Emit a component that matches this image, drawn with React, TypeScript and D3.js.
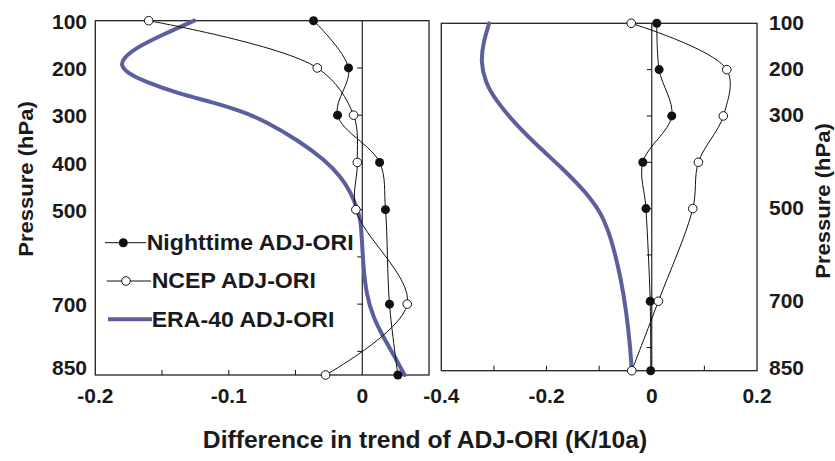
import React from "react";
import * as d3 from "d3";

// ---- data ----
const levels = [100, 200, 300, 400, 500, 700, 850];
const yTickLabelsLeft = [100, 200, 300, 400, 500, 700, 850];
const yTickLabelsRight = [100, 200, 300, 500, 700, 850];
const yMinorTicks = [200, 300, 400, 500, 600, 700, 800];

const nightLeft = [-0.0365, -0.0103, -0.0185, 0.013, 0.0174, 0.0204, 0.0267];
const ncepLeft = [-0.16, -0.0337, -0.0065, -0.0037, -0.0048, 0.0337, -0.0275];
const eraLeftP = [100, 130, 158, 180, 194, 211, 229, 254, 272, 293, 311, 353, 395, 430, 466, 501, 519, 550, 621, 678, 727, 776, 812, 850];
const eraLeftV = [-0.126, -0.15, -0.17, -0.179, -0.181, -0.176, -0.163, -0.138, -0.113, -0.089, -0.074, -0.048, -0.028, -0.016, -0.008, -0.0035, -0.0015, -0.0005, 0.0008, 0.003, 0.008, 0.017, 0.0245, 0.0317];

const nightRight = [0.0095, 0.014, 0.038, -0.017, -0.011, -0.003, -0.002];
const ncepRight = [-0.039, 0.1426, 0.136, 0.0886, 0.078, 0.0126, -0.038];
const eraRightP = [100, 140, 183, 226, 269, 320, 370, 413, 449, 474, 510, 554, 583, 654, 726, 798, 850];
const eraRightV = [-0.309, -0.32, -0.325, -0.317, -0.295, -0.257, -0.212, -0.17, -0.139, -0.119, -0.096, -0.081, -0.073, -0.058, -0.048, -0.041, -0.038];

const xTicksLeft = [-0.2, -0.1, 0];
const xMinorLeft = [-0.15, -0.1, -0.05];
const xTicksRight = [-0.4, -0.2, 0, 0.2];
const xMinorRight = [-0.3, -0.2, -0.1, 0.1];

const legendLabels = ["Nighttime ADJ-ORI", "NCEP ADJ-ORI", "ERA-40 ADJ-ORI"];
const xTitle = "Difference in trend of ADJ-ORI (K/10a)";
const yTitle = "Pressure (hPa)";

const ERA_COLOR = "#5b5f9e";
const FONT = "'Liberation Sans', Arial, Helvetica, sans-serif";
const SX = 1.05;

const locale = d3.formatLocale({ decimal: ".", thousands: ",", grouping: [3], currency: ["", ""], minus: "-" });
const fmt = locale.format(".1f");

function T({ x, y, size, anchor = "middle", rotate = 0, children }: any) {
  return (
    <text
      transform={`translate(${x},${y}) rotate(${rotate}) scale(${SX},1)`}
      fontFamily={FONT}
      fontWeight="bold"
      fontSize={size}
      textAnchor={anchor}
      dominantBaseline="central"
      fill="#1a1a1a"
    >
      {children}
    </text>
  );
}

function Panel({ xs, ys, night, ncep, eraP, eraV, ticks, minor, labelX }: any) {
  const [x0, x1] = xs.range();
  const [y0, y1] = ys.range();
  const profile = d3
    .line<[number, number]>()
    .x((d) => xs(d[0]))
    .y((d) => ys(d[1]))
    .curve(d3.curveCatmullRom.alpha(0.5));
  const smooth = d3
    .line<[number, number]>()
    .x((d) => xs(d[0]))
    .y((d) => ys(d[1]))
    .curve(d3.curveBasis);
  const nightPts: [number, number][] = levels.map((p, i) => [night[i], p]);
  const ncepPts: [number, number][] = levels.map((p, i) => [ncep[i], p]);
  const eraPts: [number, number][] = eraP.map((p: number, i: number) => [eraV[i], p]);
  return (
    <g>
      <rect x={x0} y={y0} width={x1 - x0} height={y1 - y0} fill="none" stroke="#222" strokeWidth={1.3} />
      <line x1={xs(0)} x2={xs(0)} y1={y0} y2={y1} stroke="#111" strokeWidth={1.1} />
      {yMinorTicks.map((p) => (
        <line key={"yt" + p} x1={xs(0) - 5} x2={xs(0)} y1={ys(p)} y2={ys(p)} stroke="#111" strokeWidth={1} />
      ))}
      {minor.map((v: number) => (
        <line key={"xt" + v} x1={xs(v)} x2={xs(v)} y1={y1} y2={y1 - 5} stroke="#111" strokeWidth={1} />
      ))}
      {ticks.map((v: number) => (
        <T key={"xl" + v} x={xs(v)} y={labelX} size={20}>
          {v === 0 ? "0" : fmt(v)}
        </T>
      ))}
      <path d={smooth(eraPts) || ""} fill="none" stroke={ERA_COLOR} strokeWidth={4} strokeLinecap="round" />
      <path d={profile(ncepPts) || ""} fill="none" stroke="#111" strokeWidth={1} />
      <path d={profile(nightPts) || ""} fill="none" stroke="#111" strokeWidth={1} />
      {nightPts.map((d, i) => (
        <circle key={"n" + i} cx={xs(d[0])} cy={ys(d[1])} r={4.5} fill="#111" />
      ))}
      {ncepPts.map((d, i) => (
        <circle key={"c" + i} cx={xs(d[0])} cy={ys(d[1])} r={4.3} fill="#fff" stroke="#111" strokeWidth={1} />
      ))}
    </g>
  );
}

export default function App() {
  const xL = d3.scaleLinear().domain([-0.2, 0.05]).range([95.3, 429]);
  const yL = d3.scaleLinear().domain([100, 850]).range([20.7, 375]);
  const xR = d3.scaleLinear().domain([-0.4, 0.2]).range([441.3, 757]);
  const yR = d3.scaleLinear().domain([100, 850]).range([23.3, 370.7]);

  const legY = [242.7, 281, 319.3];

  return (
    <svg width={835} height={461} style={{ position: "absolute", left: 0, top: 0, background: "#fff" }}>
      <rect width={835} height={461} fill="#fff" />
      <Panel xs={xL} ys={yL} night={nightLeft} ncep={ncepLeft} eraP={eraLeftP} eraV={eraLeftV} ticks={xTicksLeft} minor={xMinorLeft} labelX={396} />
      <Panel xs={xR} ys={yR} night={nightRight} ncep={ncepRight} eraP={eraRightP} eraV={eraRightV} ticks={xTicksRight} minor={xMinorRight} labelX={396} />

      {yTickLabelsLeft.map((p) => (
        <T key={"yl" + p} x={87} y={p === 850 ? yL(p) - 7 : yL(p) + 1} size={20} anchor="end">
          {p}
        </T>
      ))}
      {yTickLabelsRight.map((p) => (
        <T key={"yr" + p} x={769} y={p === 850 ? yR(p) - 3 : yR(p) - 1} size={20} anchor="start">
          {p}
        </T>
      ))}

      <T x={26} y={179} size={21} rotate={-90}>{yTitle}</T>
      <T x={823} y={201} size={21} rotate={-90}>{yTitle}</T>
      <T x={425} y={440} size={23.5}>{xTitle}</T>

      {/* legend */}
      <line x1={105} x2={146} y1={legY[0]} y2={legY[0]} stroke="#111" strokeWidth={1} />
      <circle cx={123.3} cy={legY[0]} r={4.5} fill="#111" />
      <line x1={106.7} x2={151} y1={legY[1]} y2={legY[1]} stroke="#111" strokeWidth={1} />
      <circle cx={126} cy={legY[1]} r={4.3} fill="#fff" stroke="#111" strokeWidth={1} />
      <line x1={108} x2={152} y1={legY[2]} y2={legY[2]} stroke={ERA_COLOR} strokeWidth={4} />
      <T x={146.7} y={legY[0]} size={22} anchor="start">{legendLabels[0]}</T>
      <T x={151.7} y={legY[1]} size={22} anchor="start">{legendLabels[1]}</T>
      <T x={151.7} y={legY[2]} size={22} anchor="start">{legendLabels[2]}</T>
    </svg>
  );
}
